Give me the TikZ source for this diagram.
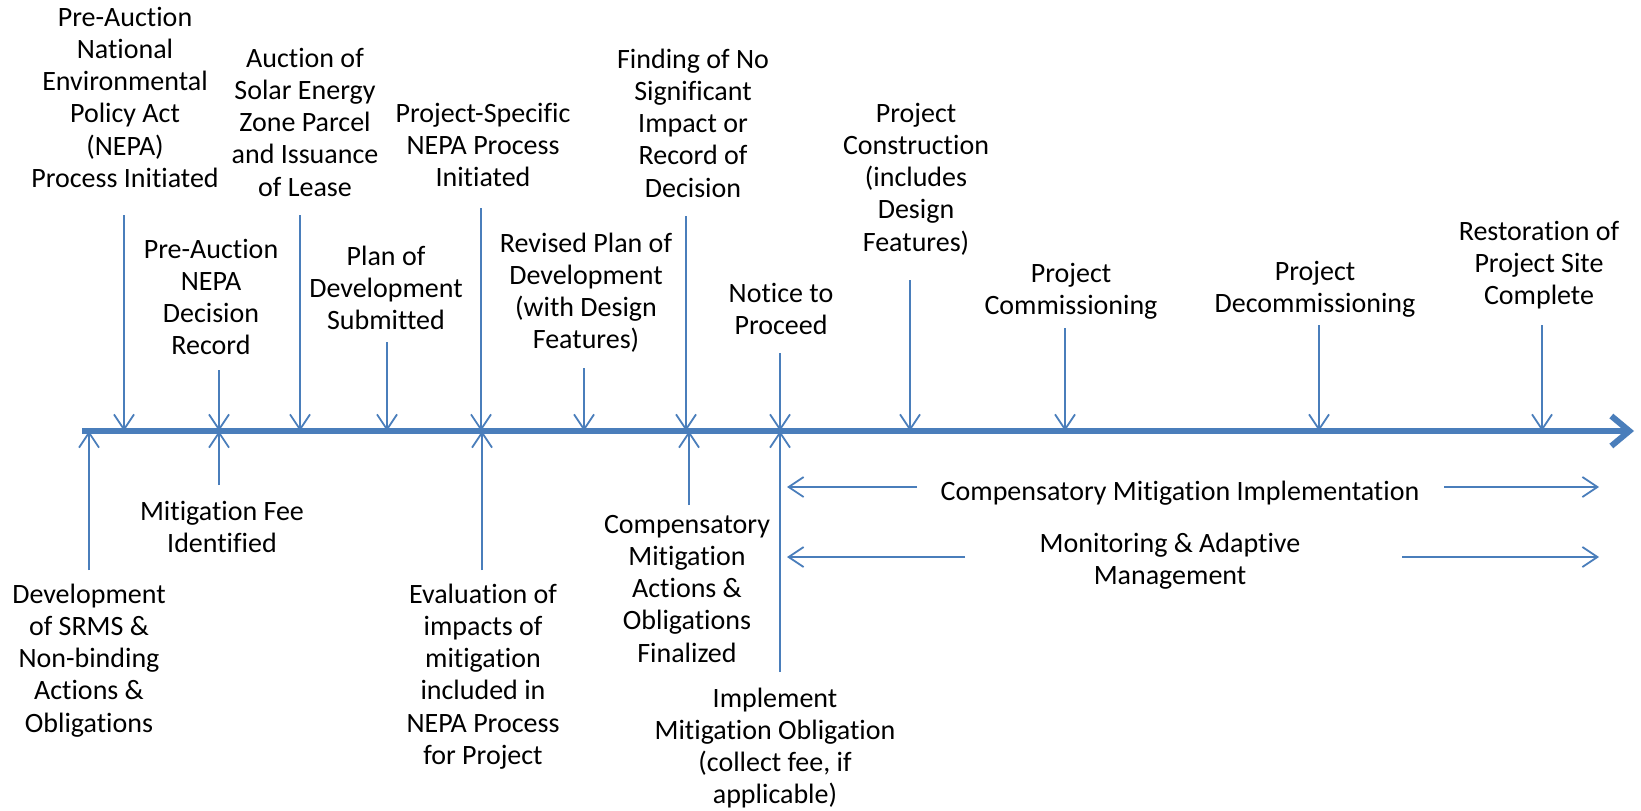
\documentclass[tikz,border=0pt]{standalone}
\usepackage{fontspec}
\setmainfont{Carlito}[Ligatures={NoCommon,NoContextual}]
\usetikzlibrary{arrows.meta}
\definecolor{lineblue}{RGB}{74,126,187}
\newcommand\mytab[1]{\begin{tabular}[t]{@{}c@{}}#1\end{tabular}}
\begin{document}
\begin{tikzpicture}[x=1pt,y=-1pt,
  lbl/.style={anchor=base,inner sep=0pt,font=\fontsize{28}{32.3}\selectfont},
  tick/.style={draw=lineblue,line width=1.8pt,-{Straight Barb[length=15pt,width=20pt]}},
  axisline/.style={draw=lineblue,line width=6pt,-{Straight Barb[length=18pt,width=30pt]}}]
\fill[white] (0,0) rectangle (1641,811);
\useasboundingbox (0,0) rectangle (1641,811);

% axis
\coordinate (axL) at (82,431);
\coordinate (axR) at (1634,431);
\draw[axisline] (axL) -- (axR);

% top labels
\node[lbl] (t1) at (125,26) {\mytab{Pre-Auction\\National\\Environmental\\Policy Act\\(NEPA)\\Process Initiated}};
\node[lbl] (t2) at (211,258) {\mytab{Pre-Auction\\NEPA\\Decision\\Record}};
\node[lbl] (t3) at (305,67) {\mytab{Auction of\\Solar Energy\\Zone Parcel\\and Issuance\\of Lease}};
\node[lbl] (t4) at (386,265) {\mytab{Plan of\\Development\\Submitted}};
\node[lbl] (t5) at (483,122) {\mytab{Project-Specific\\NEPA Process\\Initiated}};
\node[lbl] (t6) at (586,252) {\mytab{Revised Plan of\\Development\\(with Design\\Features)}};
\node[lbl] (t7) at (693,68) {\mytab{Finding of No\\Significant\\Impact or\\Record of\\Decision}};
\node[lbl] (t8) at (781,302) {\mytab{Notice to\\Proceed}};
\node[lbl] (t9) at (916,122) {\mytab{Project\\Construction\\(includes\\Design\\Features)}};
\node[lbl] (t10) at (1071,282) {\mytab{Project\\Commissioning}};
\node[lbl] (t11) at (1315,280) {\mytab{Project\\Decommissioning}};
\node[lbl] (t12) at (1539,240) {\mytab{Restoration of\\Project Site\\Complete}};

% bottom labels
\node[lbl] (b1) at (89,603) {\mytab{Development\\of SRMS \&\\Non-binding\\Actions \&\\Obligations}};
\node[lbl] (b2) at (222,520) {\mytab{Mitigation Fee\\Identified}};
\node[lbl] (b3) at (483,603) {\mytab{Evaluation of\\impacts of\\mitigation\\included in\\NEPA Process\\for Project}};
\node[lbl] (b4) at (687,533) {\mytab{Compensatory\\Mitigation\\Actions \&\\Obligations\\Finalized}};
\node[lbl] (b5) at (775,707) {\mytab{Implement\\Mitigation Obligation\\(collect fee, if\\applicable)}};

% span labels
\node[lbl] (h1) at (1180,500) {\mytab{Compensatory Mitigation Implementation}};
\node[lbl] (h2) at (1170,552) {\mytab{Monitoring \& Adaptive\\Management}};

% top arrow starts and axis points
\foreach \n/\x/\y in {1/124/215, 2/219/370, 3/300/215, 4/387/342, 5/481/208, 6/584/368,
                      7/686/216, 8/780/353, 9/910/280, 10/1065/328, 11/1319/325, 12/1542/325} {
  \coordinate (ta\n) at (\x,\y);
  \coordinate (tx\n) at (\x,431);
}
\foreach \n in {1,...,12} { \draw[tick] (ta\n) -- (tx\n); }

% bottom arrows (from label side up to axis)
\foreach \n/\x/\y in {1/89/570, 2/219/485, 3/482/570, 4/689/505, 5/780/672} {
  \coordinate (ba\n) at (\x,\y);
  \coordinate (bx\n) at (\x,431);
}
\foreach \n in {1,...,5} { \draw[tick] (ba\n) -- (bx\n); }

% horizontal span arrows
\coordinate (h1l) at (917,487);
\coordinate (h1le) at (787,487);
\coordinate (h1r) at (1444,487);
\coordinate (h1re) at (1599,487);
\coordinate (h2l) at (965,557);
\coordinate (h2le) at (787,557);
\coordinate (h2r) at (1402,557);
\coordinate (h2re) at (1599,557);
\draw[tick] (h1l) -- (h1le);
\draw[tick] (h1r) -- (h1re);
\draw[tick] (h2l) -- (h2le);
\draw[tick] (h2r) -- (h2re);
\end{tikzpicture}
\end{document}
